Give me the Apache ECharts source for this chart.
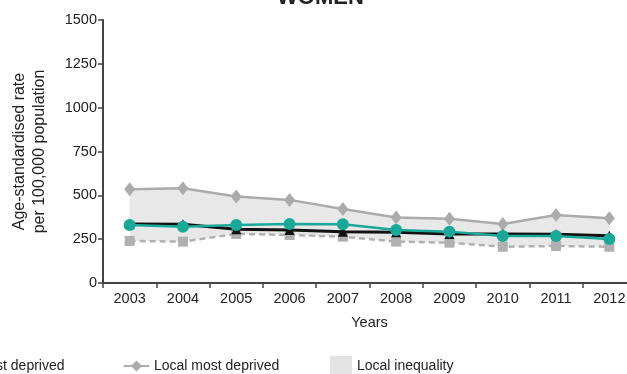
<!DOCTYPE html>
<html><head><meta charset="utf-8">
<script src="https://cdn.jsdelivr.net/npm/echarts@6/dist/echarts.min.js"></script>
<style>html,body{margin:0;padding:0;background:#fff;overflow:hidden}#c{width:640px;height:374px}</style>
</head><body><div id="c"></div>
<script>
const years = ['2003','2004','2005','2006','2007','2008','2009','2010','2011','2012'];
const yTicks = [0,250,500,750,1000,1250,1500];
const localMostDeprived = [535,541,493,474,422,373,366,337,388,369];
const localLeastDeprived = [240,236,280,274,264,236,230,207,211,207];
const localAverage = [337,335,306,302,293,290,280,280,278,270];
const englandAverage = [331,321,331,337,335,302,293,268,268,251];

const gap = localMostDeprived.map((v,i)=>v-localLeastDeprived[i]);
const font = 'Liberation Sans, Arial, sans-serif';
const lgText = {fontSize:14, color:'#222', fontFamily:font};
const chart = echarts.init(document.getElementById('c'), null, {renderer:'canvas'});
chart.setOption({
  animation:false,
  textStyle:{fontFamily:font},
  title:{text:'WOMEN', left:272, top:-18, textStyle:{fontFamily:font, fontSize:22, fontWeight:'bold', color:'#222'}},
  grid:{left:103, top:20, width:533, height:263},
  legend:[
    {left:-91, top:359, padding:0, itemWidth:25, itemHeight:14, data:['Local least deprived'], textStyle:lgText},
    {left:123, top:359, padding:0, itemWidth:25, itemHeight:14, data:['Local most deprived'], textStyle:lgText},
    {left:330, top:356, padding:0, itemWidth:22, itemHeight:20, data:[{name:'Local inequality', icon:'rect'}], textStyle:lgText}
  ],
  xAxis:{type:'category', data:years, boundaryGap:true,
    name:'Years', nameLocation:'middle', nameGap:32, nameTextStyle:{fontSize:14.5, color:'#222', fontFamily:font},
    axisLine:{lineStyle:{color:'#444', width:2}},
    axisTick:{show:true, length:5, lineStyle:{color:'#444', width:1.5}},
    axisLabel:{fontSize:14.5, color:'#222', margin:8, fontFamily:font}},
  yAxis:{type:'value', min:yTicks[0], max:yTicks[yTicks.length-1], interval:250,
    name:'Age-standardised rate\nper 100,000 population', nameLocation:'middle', nameGap:53,
    nameTextStyle:{fontSize:16, color:'#222', lineHeight:20, fontFamily:font},
    splitLine:{show:false},
    axisLine:{show:true, lineStyle:{color:'#444', width:2}},
    axisTick:{show:true, length:5, lineStyle:{color:'#444', width:1.5}},
    axisLabel:{fontSize:14.5, color:'#222', margin:6, fontFamily:font, formatter:v=>String(v)}},
  series:[
    {name:'base', type:'line', stack:'ineq', data:localLeastDeprived, symbol:'none', lineStyle:{opacity:0}, silent:true, z:1},
    {name:'Local inequality', type:'line', stack:'ineq', data:gap, symbol:'none', lineStyle:{opacity:0},
      areaStyle:{color:'#e8e8e8', opacity:1}, itemStyle:{color:'#e3e3e3'}, z:1},
    {name:'Local least deprived', type:'line', data:localLeastDeprived, symbol:'rect', symbolSize:10,
      lineStyle:{color:'#b0b0b0', width:2.5, type:[6,4]}, itemStyle:{color:'#b0b0b0'}, z:3},
    {name:'Local most deprived', type:'line', data:localMostDeprived, symbol:'diamond', symbolSize:[11,14],
      lineStyle:{color:'#ababab', width:2.5}, itemStyle:{color:'#ababab'}, z:3},
    {name:'Local average', type:'line', data:localAverage, symbol:'triangle', symbolSize:10,
      lineStyle:{color:'#111', width:3}, itemStyle:{color:'#111'}, z:4},
    {name:'England average', type:'line', data:englandAverage, symbol:'circle', symbolSize:12,
      lineStyle:{color:'#1aa898', width:2.5}, itemStyle:{color:'#1aa898'}, z:5}
  ]
});
</script></body></html>
